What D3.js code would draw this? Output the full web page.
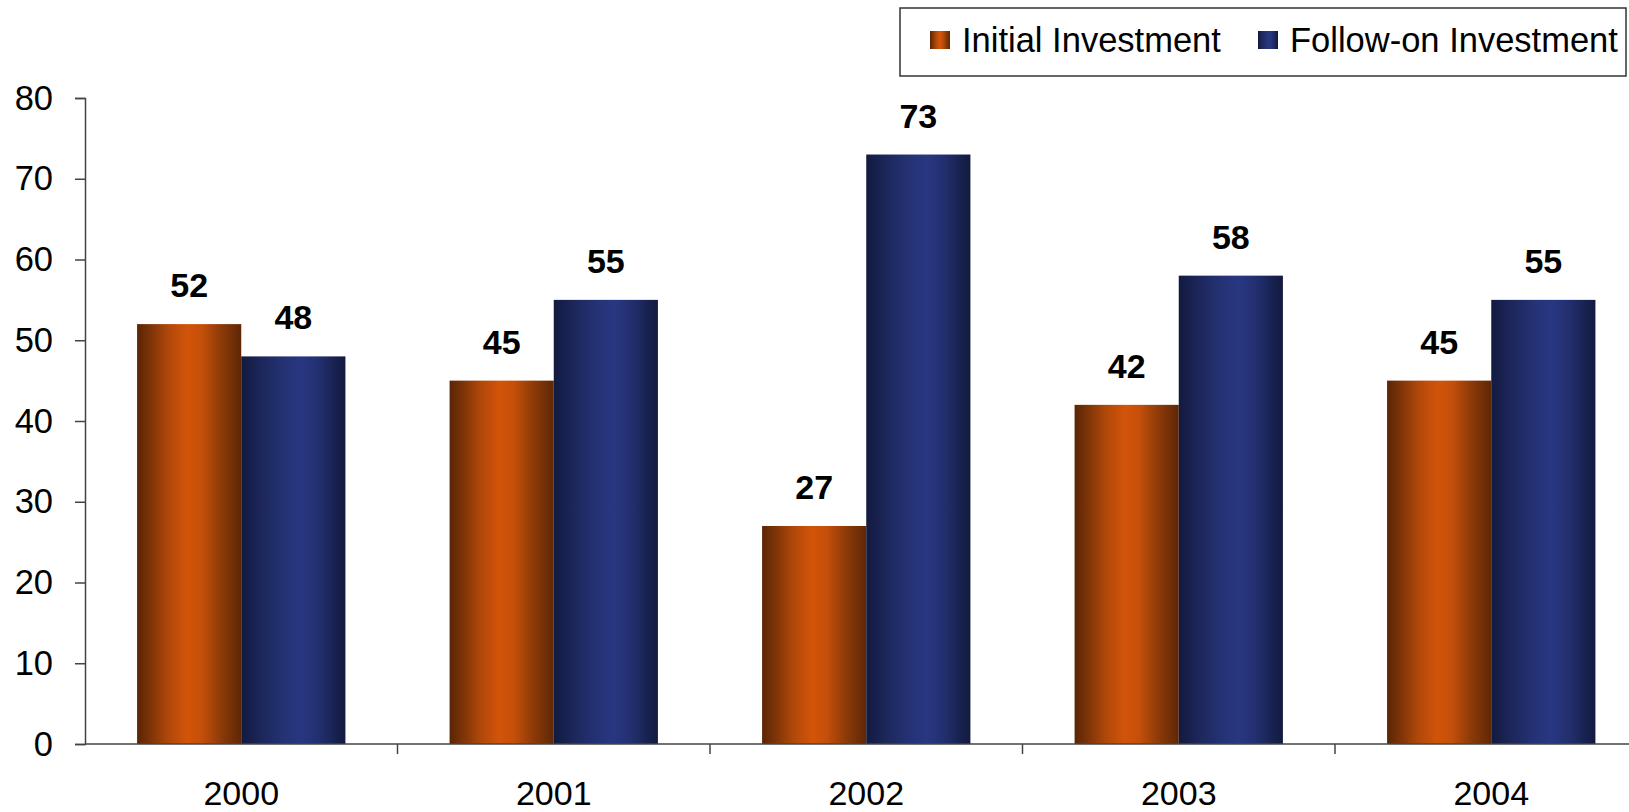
<!DOCTYPE html>
<html>
<head>
<meta charset="utf-8">
<script src="https://cdn.jsdelivr.net/npm/d3@7"></script>
<style>
  html, body { margin: 0; padding: 0; background: #fff; }
  svg { display: block; font-family: "Liberation Sans", Arial, sans-serif; }
</style>
</head>
<body>
<svg id="chart" width="1629" height="812"></svg>
<script>
// Investment counts per year
const years = ["2000", "2001", "2002", "2003", "2004"];
const seriesNames = ["Initial Investment", "Follow-on Investment"];
const initialInvestment = [52, 45, 27, 42, 45];
const followOnInvestment = [48, 55, 73, 58, 55];
const yTicks = [0, 10, 20, 30, 40, 50, 60, 70, 80];

const rows = years.map((yr, i) => ({
  year: yr,
  values: [
    { key: seriesNames[0], value: initialInvestment[i] },
    { key: seriesNames[1], value: followOnInvestment[i] }
  ]
}));

const svg = d3.select("#chart");
const plotLeft = 85, plotBottom = 744, plotTop = 98;

const y = d3.scaleLinear().domain([0, 80]).range([plotBottom, plotTop]);
const x0 = d3.scaleBand().domain(years).range([plotLeft, plotLeft + 5 * 312.5]).padding(0);
const x1 = d3.scaleBand().domain(seriesNames).range([0, x0.bandwidth()]).paddingInner(0).paddingOuter(0.5);

// Cylindrical shading for the bars
const defs = svg.append("defs");
const gradients = {
  [seriesNames[0]]: { id: "gradInitial", stops: [
    [0, "#5a2505"], [0.12, "#7a3307"], [0.3, "#b0480a"], [0.48, "#d25409"],
    [0.62, "#c54f0a"], [0.8, "#8e3b08"], [1, "#5e2706"] ] },
  [seriesNames[1]]: { id: "gradFollow", stops: [
    [0, "#121a3f"], [0.18, "#1c2659"], [0.4, "#243274"], [0.58, "#283781"],
    [0.75, "#222f6e"], [0.9, "#182250"], [1, "#131a3e"] ] }
};
Object.values(gradients).forEach(g => {
  const lg = defs.append("linearGradient").attr("id", g.id)
    .attr("x1", "0%").attr("x2", "100%").attr("y1", "0%").attr("y2", "0%");
  g.stops.forEach(([o, c]) => lg.append("stop").attr("offset", o).attr("stop-color", c));
});
const fillFor = k => `url(#${gradients[k].id})`;

// Bars
const groups = svg.append("g").selectAll("g").data(rows).join("g")
  .attr("transform", d => `translate(${x0(d.year)},0)`);

groups.selectAll("rect").data(d => d.values).join("rect")
  .attr("x", d => x1(d.key))
  .attr("width", x1.bandwidth())
  .attr("y", d => y(d.value))
  .attr("height", d => y(0) - y(d.value))
  .attr("fill", d => fillFor(d.key));

// Value labels
groups.selectAll("text").data(d => d.values).join("text")
  .attr("x", d => x1(d.key) + x1.bandwidth() / 2)
  .attr("y", d => y(d.value) - 27)
  .attr("text-anchor", "middle")
  .attr("font-size", 34)
  .attr("font-weight", "bold")
  .attr("fill", "#000")
  .text(d => d.value);

// Y axis
const yAxis = d3.axisLeft(y).tickValues(yTicks).tickSize(10).tickPadding(22);
const yg = svg.append("g").attr("transform", `translate(${plotLeft},0)`).call(yAxis);
yg.select(".domain").attr("stroke", "#444").attr("stroke-width", 1.5);
yg.selectAll(".tick line").attr("stroke", "#444").attr("stroke-width", 1.5);
yg.selectAll(".tick text").attr("font-size", 34.5).attr("fill", "#000")
  .attr("font-family", "Liberation Sans, Arial, sans-serif");

// X axis: baseline, ticks between categories, year labels
const xg = svg.append("g");
xg.append("line").attr("x1", plotLeft).attr("x2", 1629).attr("y1", y(0)).attr("y2", y(0))
  .attr("stroke", "#444").attr("stroke-width", 1.5);
xg.selectAll("line.tk").data(years).join("line").attr("class", "tk")
  .attr("x1", d => x0(d) + x0.bandwidth()).attr("x2", d => x0(d) + x0.bandwidth())
  .attr("y1", y(0)).attr("y2", y(0) + 10)
  .attr("stroke", "#444").attr("stroke-width", 1.5);
xg.selectAll("text").data(years).join("text")
  .attr("x", d => x0(d) + x0.bandwidth() / 2)
  .attr("y", 805)
  .attr("text-anchor", "middle")
  .attr("font-size", 34)
  .attr("fill", "#000")
  .text(d => d);

// Legend
const legend = svg.append("g");
legend.append("rect").attr("x", 900).attr("y", 8).attr("width", 726).attr("height", 68)
  .attr("fill", "#fff").attr("stroke", "#333").attr("stroke-width", 1.5);
const legendItems = [
  { key: seriesNames[0], sx: 930, tx: 962 },
  { key: seriesNames[1], sx: 1258, tx: 1290 }
];
legend.selectAll("rect.sw").data(legendItems).join("rect").attr("class", "sw")
  .attr("x", d => d.sx).attr("y", 31).attr("width", 20).attr("height", 18)
  .attr("fill", d => fillFor(d.key));
legend.selectAll("text").data(legendItems).join("text")
  .attr("x", d => d.tx).attr("y", 52)
  .attr("font-size", 34.5).attr("fill", "#000")
  .text(d => d.key);
</script>
</body>
</html>
